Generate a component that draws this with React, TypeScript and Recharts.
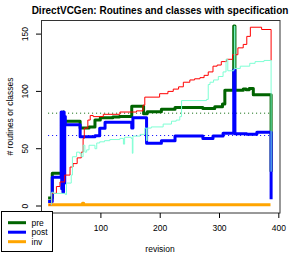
import React from 'react';
import { LineChart, Line, XAxis, YAxis, ReferenceLine } from 'recharts';

// ---- data (revision, value) ----
const preRev = [11, 18, 36, 37, 65, 73, 80, 90, 99, 120, 131, 152, 172, 178, 202, 225, 272, 292, 305, 309, 324, 326, 340, 345, 350, 357, 386, 387];
const preVal = [7, 28.5, 82, 74, 68, 68, 69, 75, 77, 77.7, 78, 87, 80.5, 82.3, 84.4, 86, 85, 86.7, 89, 101, 157, 101, 102, 101.5, 102.5, 97, 97, 30];

const postRev = [11, 18, 33, 34, 35, 36, 37, 38, 39, 40, 65, 90, 98, 107, 152, 154, 177, 202, 225, 272, 289, 306, 324, 326, 346, 363, 386, 387];
const postVal = [4, 25, 82, 15, 80, 12, 82, 20, 78, 71, 60.5, 61.3, 67.8, 73, 68, 77, 54.7, 57, 61, 59, 61, 63.4, 118.7, 63, 62.6, 64.3, 64.3, 6];

const invRev = [11, 69, 71, 386];
const invVal = [1, 2.5, 1, 1];

const redRev = [13, 17, 25, 31, 39, 48, 53, 60, 67, 70, 72, 78, 82, 87, 104, 132, 160, 171, 174, 199, 213, 222, 231, 239, 250, 258, 267, 274, 281, 289, 296, 303, 312, 322, 331, 340, 346, 352, 371, 387];
const redVal = [1, 11, 17, 21, 27, 34, 37, 42, 47, 59, 68, 75, 79, 78, 80, 82, 83, 88, 95, 98, 100, 102, 104, 108, 110, 111, 112, 114, 117, 122, 123, 126, 128, 132, 138, 141, 148, 156, 154, 127];

const aquaRev = [15, 17, 20, 40, 42, 50, 52, 59, 64, 67, 70, 73, 76, 80, 90, 93, 98, 106, 115, 132, 138, 140, 151, 153, 154, 166, 174, 177, 178, 185, 205, 219, 227, 233, 236, 278, 281, 284, 290, 298, 306, 311, 314, 324, 325, 326, 335, 351, 360, 375, 386, 387];
const aquaVal = [1, 12, 11, 10, 20, 27, 43, 47, 46, 43, 53, 47, 49, 53, 50, 55, 56, 57, 58, 59, 54, 60, 59, 46, 61, 62.5, 68, 57, 68, 69, 71.5, 74, 75, 78, 92, 93, 106, 108, 110, 113, 117, 128, 118, 119, 157, 120, 122, 124.5, 126, 127, 127, 30];

const avgPre = 81;
const avgPost = 61.5;
const avgFrom = 11;
const avgTo = 385;

const xTicks = [100, 200, 300, 400];
const yTicks = [0, 50, 100, 150];
const legendItems = [
  { name: 'pre', color: '#006400' },
  { name: 'post', color: '#0000FF' },
  { name: 'inv', color: '#FFA500' },
];

const build = (r: number[], v: number[]) => r.map((rev, i) => ({ rev, v: v[i] }));
const preData = build(preRev, preVal);
const postData = build(postRev, postVal);
const invData = build(invRev, invVal);
const redData = build(redRev, redVal);
const aquaData = build(aquaRev, aquaVal);

const FONT = '"Liberation Sans", Arial, sans-serif';

const XTick = (props: any) => {
  const { x, payload } = props;
  return (
    <text x={x} y={228} textAnchor="middle" dominantBaseline="central" fontSize={8.5} fontFamily={FONT} fill="#000">
      {payload.value}
    </text>
  );
};

const YTick = (props: any) => {
  const { y, payload } = props;
  return (
    <text x={25.5} y={y} textAnchor="middle" dominantBaseline="central" fontSize={8.5} fontFamily={FONT} fill="#000" transform={`rotate(-90, 25.5, ${y})`}>
      {payload.value}
    </text>
  );
};

export default function App() {
  return (
    <div style={{ position: 'absolute', left: 0, top: 0, width: 294, height: 254, background: '#fff' }}>
      <LineChart width={294} height={254} margin={{ top: 20, right: 14, left: 0, bottom: 0 }}>
        <XAxis
          dataKey="rev"
          type="number"
          domain={[-1, 402]}
          ticks={xTicks}
          allowDataOverflow
          height={41}
          axisLine={false}
          tickSize={5}
          tickLine={{ stroke: '#000' }}
          tick={<XTick />}
          interval={0}
        />
        <YAxis
          type="number"
          domain={[-6.1, 162.3]}
          ticks={yTicks}
          allowDataOverflow
          width={41}
          axisLine={false}
          tickSize={5}
          tickLine={{ stroke: '#000' }}
          tick={<YTick />}
          interval={0}
        />
        <ReferenceLine segment={[{ x: avgFrom, y: avgPre }, { x: avgTo, y: avgPre }]} stroke="#006400" strokeDasharray="1 3" strokeWidth={1} />
        <ReferenceLine segment={[{ x: avgFrom, y: avgPost }, { x: avgTo, y: avgPost }]} stroke="#0000FF" strokeDasharray="1 3" strokeWidth={1} />
        <Line data={preData} dataKey="v" type="stepAfter" stroke="#006400" strokeWidth={3} dot={false} isAnimationActive={false} strokeLinejoin="round" />
        <Line data={postData} dataKey="v" type="stepAfter" stroke="#0000FF" strokeWidth={3} dot={false} isAnimationActive={false} strokeLinejoin="round" />
        <Line data={invData} dataKey="v" type="stepAfter" stroke="#FFA500" strokeWidth={3} dot={false} isAnimationActive={false} strokeLinejoin="round" />
        <Line data={redData} dataKey="v" type="stepAfter" stroke="#FF0000" strokeWidth={1} dot={false} isAnimationActive={false} />
        <Line data={aquaData} dataKey="v" type="stepAfter" stroke="#7FFFD4" strokeWidth={1} dot={false} isAnimationActive={false} />
        <rect x={41.5} y={20.5} width={238.5} height={192.5} fill="none" stroke="#333" strokeWidth={1} />
        <text x={160} y={13.5} textAnchor="middle" fontSize={10} fontWeight="bold" fontFamily={FONT} fill="#000">
          DirectVCGen: Routines and classes with specification
        </text>
        <text x={10} y={116.5} textAnchor="middle" dominantBaseline="central" fontSize={8.5} fontFamily={FONT} fill="#000" transform="rotate(-90, 10, 116.5)">
          # routines or classes
        </text>
        <text x={160} y={249} textAnchor="middle" dominantBaseline="central" fontSize={8.5} fontFamily={FONT} fill="#000">
          revision
        </text>
        <g>
          <rect x={1.5} y={211.5} width={51} height={40} fill="#fff" stroke="#000" strokeWidth={1} />
          {legendItems.map((it, i) => (
            <g key={it.name}>
              <line x1={8} x2={26} y1={222.7 + i * 9.5} y2={222.7 + i * 9.5} stroke={it.color} strokeWidth={3} />
              <text x={31.5} y={222.7 + i * 9.5} dominantBaseline="central" fontSize={8.5} fontFamily={FONT} fill="#000">
                {it.name}
              </text>
            </g>
          ))}
        </g>
      </LineChart>
    </div>
  );
}
